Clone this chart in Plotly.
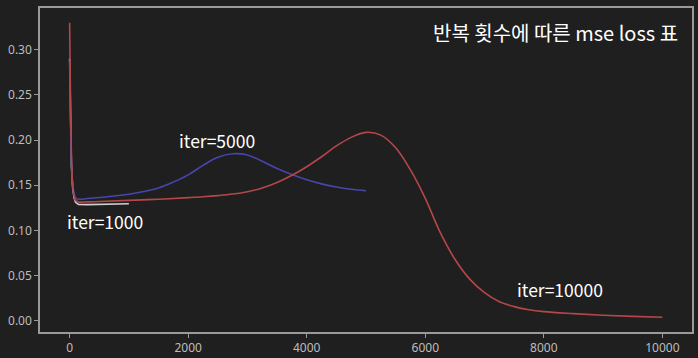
import plotly.graph_objects as go

# iter=1000 series
iter1000_x = [0, 10, 20, 30, 50, 75, 100, 150, 300, 600, 1000]
iter1000_y = [0.290, 0.240, 0.200, 0.172, 0.148, 0.136, 0.131, 0.1288, 0.1285, 0.1288, 0.1295]

# iter=5000 series
iter5000_x = [0, 10, 20, 30, 50, 75, 100, 150, 300, 600, 1000, 1250, 1500, 1750,
              2000, 2250, 2500, 2750, 3000, 3250, 3500, 3750, 4000, 4250, 4500, 4750, 5000]
iter5000_y = [0.288, 0.240, 0.200, 0.175, 0.152, 0.141, 0.136, 0.1345, 0.1352, 0.1370,
              0.1400, 0.1430, 0.1470, 0.1535, 0.1615, 0.1720, 0.1810, 0.1848, 0.1835,
              0.1765, 0.1685, 0.1618, 0.1560, 0.1515, 0.1480, 0.1455, 0.1438]

# iter=10000 series
iter10000_x = [0, 10, 20, 30, 50, 75, 100, 150, 300, 600, 1000, 1500, 2000, 2250, 2500, 2750,
               3000, 3250, 3500, 3750, 4000, 4250, 4500, 4750, 5000, 5250, 5500, 5750,
               6000, 6250, 6500, 6750, 7000, 7250, 7500, 7750, 8000, 8500, 9000, 9500, 10000]
iter10000_y = [0.330, 0.270, 0.220, 0.185, 0.152, 0.138, 0.1330, 0.1315, 0.1315, 0.1322,
               0.1332, 0.1345, 0.1362, 0.1372, 0.1385, 0.1402, 0.1428, 0.1470, 0.1530,
               0.1610, 0.1705, 0.1815, 0.1935, 0.2030, 0.2085, 0.2055, 0.1915, 0.1670,
               0.1355, 0.0980, 0.0680, 0.0460, 0.0310, 0.0210, 0.0155, 0.0120, 0.0100,
               0.0078, 0.0060, 0.0047, 0.0037]

x_ticks = [0, 2000, 4000, 6000, 8000, 10000]
y_ticks = [0.00, 0.05, 0.10, 0.15, 0.20, 0.25, 0.30]

labels = [("iter=1000", 0, 0.100), ("iter=5000", 1900, 0.190), ("iter=10000", 7600, 0.025)]
title_text = "반복 횟수에 따른 mse loss 표"

BG = "#1f1f1f"
fig = go.Figure()
fig.add_trace(go.Scatter(x=iter1000_x, y=iter1000_y, mode="lines",
                         line=dict(color="#cfcfcf", width=1.6), name="iter=1000"))
fig.add_trace(go.Scatter(x=iter5000_x, y=iter5000_y, mode="lines", line_shape="spline",
                         line=dict(color="#4646ad", width=1.6), name="iter=5000"))
fig.add_trace(go.Scatter(x=iter10000_x, y=iter10000_y, mode="lines", line_shape="spline",
                         line=dict(color="#b5474a", width=1.6), name="iter=10000"))

for txt, x, y in labels:
    fig.add_annotation(x=x, y=y, text=txt, showarrow=False, xanchor="left", yanchor="bottom",
                       xshift=-5, yshift=-6,
                       font=dict(family="Noto Sans CJK KR", size=17.5, color="#ffffff"))

fig.add_annotation(x=0.981, y=0.975, xref="paper", yref="paper", text=title_text,
                   showarrow=False, xanchor="right", yanchor="top",
                   font=dict(family="Noto Sans CJK KR", size=20, color="#ffffff"))

axis_common = dict(showgrid=False, zeroline=False, showline=True, mirror=True,
                   linecolor="#9a9a9a", linewidth=1.5, ticks="outside", ticklen=4,
                   tickcolor="#9a9a9a", tickwidth=1, automargin=False,
                   tickfont=dict(family="Noto Sans", size=12, color="#bdbdbd"))

fig.update_layout(
    width=698, height=358, paper_bgcolor=BG, plot_bgcolor=BG,
    margin=dict(l=40, r=6, t=8, b=26), showlegend=False,
    xaxis=dict(range=[-500, 10500], tickvals=x_ticks, ticktext=[str(v) for v in x_ticks],
               **axis_common),
    yaxis=dict(range=[-0.0126, 0.3463], tickvals=y_ticks,
               ticktext=[f"{v:.2f}" for v in y_ticks], **axis_common),
)

fig.write_html("out.html")
